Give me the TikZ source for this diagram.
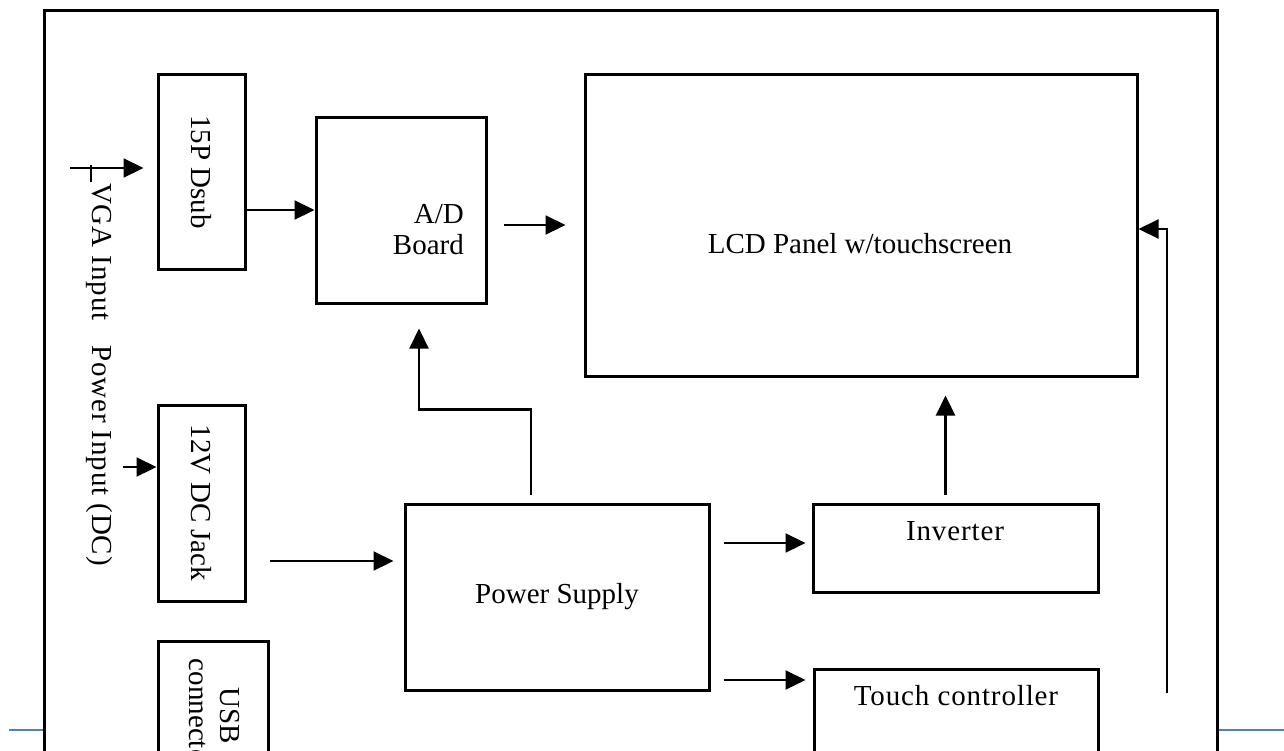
\documentclass[tikz,border=0pt]{standalone}
\usepackage{fontspec}
\setmainfont{Liberation Serif}
\usepackage{xcolor}
\usetikzlibrary{arrows.meta,positioning,calc}
\definecolor{hdrule}{HTML}{4F81BD}

\begin{document}
\begin{tikzpicture}[
  x=1pt, y=-1pt,
  blk/.style={
    draw, line width=3pt, inner sep=0pt,
    font=\fontsize{29}{33}\selectfont
  },
  arr/.style={-{Triangle[length=20pt,width=19pt]}, line width=2.2pt},
  wire/.style={line width=2pt},
  lab/.style={font=\fontsize{29}{31}\selectfont, inner sep=0pt, align=center},
  spaced/.style={font=\fontsize{29}{33}\selectfont\addfontfeature{LetterSpace=3}}
]
  \useasboundingbox (0,0) rectangle (1284,750);
  \clip (0,0) rectangle (1284,750);

  % page rule and outer frame
  \draw[hdrule, line width=2pt] (9,730) -- (44,730);
  \draw[hdrule, line width=2pt] (1217,730) -- (1284,730);
  \draw[line width=3pt] (44,10) rectangle (1217,800);

  % Left column: connectors
  \node[blk, minimum width=87pt,  minimum height=195pt] (dsub)  at (201.5,172) {};
  \node[blk, minimum width=87pt,  minimum height=196pt] (jack)  at (201.5,503) {};
  \node[blk, minimum width=110pt, minimum height=149pt] (usb)   at (213,715.5) {};
  \node[lab, rotate=-90] (dsubtxt) at (dsub) {15P Dsub};
  \node[lab, rotate=-90] (jacktxt) at (jack) {12V DC Jack};
  \node[lab, rotate=-90] (usbtxt)  at (214,716) {USB\\connector};

  % Input labels, rotated along the frame
  \node[lab, spaced, rotate=-90, anchor=west] (vgatxt) at (99,183) {VGA Input};
  \node[lab, spaced, rotate=-90, anchor=east] (pwrtxt) at (99,566) {Power Input (DC)};

  % Middle and right blocks
  \node[blk, minimum width=170pt, minimum height=186pt] (ad)    at (401,210) {};
  \node[lab, align=right, anchor=east] (adtxt) at (464,230) {A/D\\Board};
  \node[blk, minimum width=552pt, minimum height=302pt] (lcd)   at (861,225) {};
  \node[lab] (lcdtxt) at (860,244) {LCD Panel w/touchscreen};
  \node[blk, minimum width=304pt, minimum height=186pt] (ps)    at (557,597) {Power Supply};
  \node[blk, minimum width=285pt, minimum height=88pt]  (inv)   at (955.5,548) {};
  \node[lab, spaced] (invtxt) at (955,531) {Inverter};
  \node[blk, minimum width=284pt, minimum height=121pt] (touch) at (956,729.5) {};
  \node[lab, spaced] (touchtxt) at (956,696) {Touch controller};

  % Signal and power paths
  \coordinate (vgain)  at (70,168);
  \coordinate (dcin)   at (123,467);
  \coordinate (tcfeed) at (1167,693);
  \draw[arr, shorten >=13pt] (vgain) -- (vgain -| dsub.west);
  \draw[wire] (91,165) -- (91,182);
  \draw[arr] (dcin) -- (dcin -| jack.west);
  \draw[arr] (ad.west -| dsub.east) -- (ad.west);
  \draw[arr, shorten <=16pt, shorten >=18pt] (lcd.west -| ad.east) -- (lcd.west);
  \draw[arr, shorten <=23pt, shorten >=10pt]
    ($(jack.east)+(0,58)$) -- ($(jack.east -| ps.west)+(0,58)$);
  \draw[arr, shorten <=8pt, shorten >=24pt]
    ($(ps.north)+(-26,0)$) -- ++(0,-93) -| ($(ad.south)+(18,0)$);
  \draw[arr, shorten <=13pt, shorten >=6pt]
    ($(ps.east)+(0,-54)$) -- ($(ps.east -| inv.west)+(0,-54)$);
  \draw[arr, shorten <=13pt, shorten >=7pt]
    ($(ps.east)+(0,83)$) -- ($(ps.east -| touch.west)+(0,83)$);
  \draw[arr, shorten <=8pt, shorten >=18pt]
    ($(inv.north)+(-10,0)$) -- ($(inv.north |- lcd.south)+(-10,0)$);
  \draw[arr] (tcfeed) |- ($(lcd.east)+(0,4)$);
\end{tikzpicture}
\end{document}
